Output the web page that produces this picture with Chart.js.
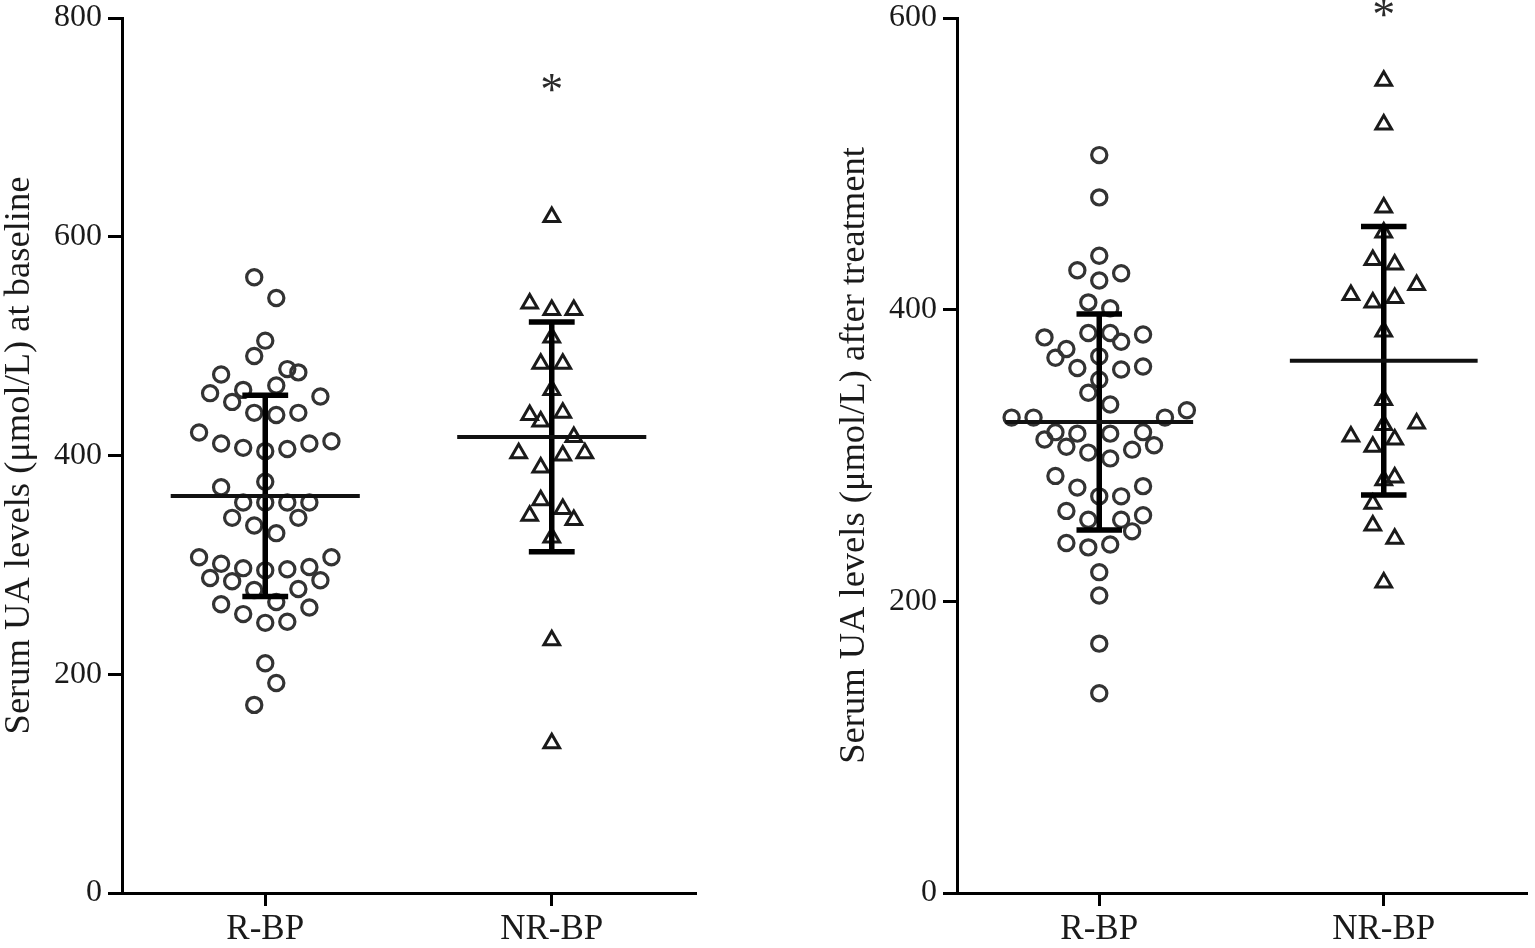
<!DOCTYPE html>
<html>
<head>
<meta charset="utf-8">
<title>Serum UA levels</title>
<script src="https://cdn.jsdelivr.net/npm/chart.js@4.4.1/dist/chart.umd.min.js"></script>
<style>
  html, body { margin: 0; padding: 0; background: #fff; }
  .panel { position: absolute; top: 0; height: 948px; }
  #left { left: 0; width: 707px; }
  #right { left: 835px; width: 703px; }
</style>
</head>
<body>
<div class="panel" id="left"><canvas id="baseline"></canvas></div>
<div class="panel" id="right"><canvas id="treated"></canvas></div>
<script>
const groups = ['R-BP', 'NR-BP'];

// serum UA (umol/L) at baseline
const baseRBP = [563, 544, 505, 491, 474, 479, 476, 464, 457, 460, 454, 449, 439, 437, 439,
  421, 411, 407, 404, 406, 411, 413, 376, 371, 357, 357, 357, 357, 343, 343, 336, 329,
  307, 301, 297, 295, 296, 298, 307, 288, 285, 286, 277, 278, 266, 264, 261, 255, 247,
  248, 210, 192, 172];
const baseRBPSlot = [-1, 1, 0, -1, -4, 2, 3, 1, -5, -2, 5, -3, -1, 1, 3,
  -6, -4, -2, 0, 2, 4, 6, 0, -4, -2, 0, 2, 4, -3, 3, -1, 1,
  -6, -4, -2, 0, 2, 4, 6, -5, -3, 5, -1, 3, 1, -4, 4, -2, 0,
  2, 0, 1, -1];
const baseNRBP = [618, 539, 533, 533, 508, 484, 484, 460, 437, 431, 439, 417, 402, 400,
  402, 389, 359, 345, 351, 341, 325, 231, 137];
const baseNRBPSlot = [0, -2, 0, 2, 0, -1, 1, 0, -2, -1, 1, 2, -3, 1,
  3, -1, -1, -2, 1, 2, 0, 0, 0];

// serum UA (umol/L) after treatment
const afterRBP = [506, 477, 437, 427, 425, 420, 405, 401, 384, 384, 378, 383, 381, 373,
  367, 360, 368, 359, 361, 352, 343, 335, 326, 326, 326, 331, 316, 315, 315, 316, 311,
  306, 302, 298, 304, 307, 286, 278, 272, 272, 279, 262, 256, 256, 259, 248, 240, 237,
  239, 220, 204, 171, 137];
const afterRBPSlot = [0, 0, 0, -2, 2, 0, -1, 1, -1, 1, 2, 4, -5, -3,
  -4, -2, 0, 2, 4, 0, -1, 1, -8, -6, 6, 8, -4, -2, 1, 4, -5,
  -3, -1, 1, 3, 5, -4, -2, 0, 2, 4, -3, -1, 2, 4, 3, -3, -1,
  1, 0, 0, 0, 0];
const afterNRBP = [557, 527, 470, 453, 434, 431, 410, 405, 408, 417, 385, 338, 321, 322,
  313, 306, 311, 285, 283, 267, 252, 243, 213];
const afterNRBPSlot = [0, 0, 0, 0, -1, 1, -3, -1, 1, 3, 0, 0, 0, 3,
  -3, -1, 1, 1, 0, -1, -1, 1, 0];

// mean and SD per group
const baseMean = [363, 417];
const baseSD = [92, 105];
const afterMean = [323, 365];
const afterSD = [74, 92];

const baseTicks = [0, 200, 400, 600, 800];
const afterTicks = [0, 200, 400, 600];

// where the significance '*' sits above NR-BP
const baseStar = 741;
const afterStar = 607;

const SLOT = 0.0385;      // horizontal step between swarm columns
const MEAN_HALF = 0.33;
const CAP_HALF = 0.08;
const serif = '"Liberation Serif", "DejaVu Serif", serif';

function swarm(values, slots, center) {
  return values.map((v, i) => ({ x: center + slots[i] * SLOT, y: v }));
}

function meanLines(means) {
  const pts = [];
  means.forEach((m, i) => {
    const c = i + 0.5;
    pts.push({ x: c - MEAN_HALF, y: m }, { x: c + MEAN_HALF, y: m }, { x: c, y: null });
  });
  return pts;
}

function sdBars(means, sds) {
  const pts = [];
  means.forEach((m, i) => {
    const c = i + 0.5, hi = m + sds[i], lo = m - sds[i];
    pts.push({ x: c - CAP_HALF, y: hi }, { x: c + CAP_HALF, y: hi }, { x: c, y: null });
    pts.push({ x: c, y: hi }, { x: c, y: lo }, { x: c, y: null });
    pts.push({ x: c - CAP_HALF, y: lo }, { x: c + CAP_HALF, y: lo }, { x: c, y: null });
  });
  return pts;
}

const starPlugin = {
  id: 'star',
  afterDatasetsDraw(chart, args, opts) {
    const { ctx, scales } = chart;
    ctx.save();
    ctx.font = '46px ' + serif;
    ctx.textAlign = 'center';
    ctx.textBaseline = 'alphabetic';
    ctx.fillStyle = '#2a2a2a';
    ctx.fillText('*', scales.x.getPixelForValue(1.5), scales.y.getPixelForValue(opts.value) + 22);
    ctx.restore();
  }
};

function makeChart(id, rbp, rbpSlot, nrbp, nrbpSlot, means, sds, ticks, title, star) {
  return new Chart(document.getElementById(id), {
    type: 'scatter',
    data: {
      datasets: [{
        label: 'mean',
        data: meanLines(means),
        showLine: true,
        spanGaps: false,
        borderColor: '#111',
        borderWidth: 4,
        pointRadius: 0,
        order: 0
      }, {
        label: 'sd',
        data: sdBars(means, sds),
        showLine: true,
        spanGaps: false,
        borderColor: '#000',
        borderWidth: 5.5,
        pointRadius: 0,
        order: 0
      }, {
        label: groups[0],
        data: swarm(rbp, rbpSlot, 0.5),
        pointStyle: 'circle',
        pointRadius: 7.6,
        pointBorderWidth: 3.2,
        pointBorderColor: '#333',
        pointBackgroundColor: 'transparent',
        order: 1
      }, {
        label: groups[1],
        data: swarm(nrbp, nrbpSlot, 1.5),
        pointStyle: 'triangle',
        pointRadius: 9,
        pointBorderWidth: 3,
        pointBorderColor: '#1a1a1a',
        pointBackgroundColor: 'transparent',
        order: 1
      }]
    },
    options: {
      responsive: true,
      maintainAspectRatio: false,
      animation: false,
      layout: { padding: { top: 18, right: 4, left: 0, bottom: 0 } },
      plugins: {
        legend: { display: false },
        tooltip: { enabled: false },
        star: { value: star }
      },
      scales: {
        x: {
          type: 'linear',
          min: 0,
          max: 2,
          afterBuildTicks: (scale) => { scale.ticks = [{ value: 0.5 }, { value: 1.5 }]; },
          afterFit: (scale) => { scale.height = 55; scale.paddingLeft = 0; scale.paddingRight = 0; },
          ticks: {
            callback: (v, i) => groups[i],
            color: '#1a1a1a',
            font: { family: serif, size: 35 },
            padding: 3,
            maxRotation: 0
          },
          grid: { drawOnChartArea: false, drawTicks: true, tickLength: 13, color: '#000', lineWidth: 3 },
          border: { display: true, color: '#000', width: 3 }
        },
        y: {
          min: 0,
          max: ticks[ticks.length - 1],
          afterBuildTicks: (scale) => { scale.ticks = ticks.map(v => ({ value: v })); },
          afterFit: (scale) => { scale.width = 122; scale.paddingTop = 0; scale.paddingBottom = 0; },
          ticks: {
            color: '#1a1a1a',
            font: { family: serif, size: 32 },
            padding: 6
          },
          title: {
            display: true,
            text: title,
            color: '#1a1a1a',
            font: { family: serif, size: 36.5, lineHeight: 1.0 },
            padding: 1
          },
          grid: { drawOnChartArea: false, drawTicks: true, tickLength: 14, color: '#000', lineWidth: 3 },
          border: { display: true, color: '#000', width: 3 }
        }
      }
    },
    plugins: [starPlugin]
  });
}

makeChart('baseline', baseRBP, baseRBPSlot, baseNRBP, baseNRBPSlot, baseMean, baseSD,
  baseTicks, 'Serum UA levels (\u03bcmol/L) at baseline', baseStar);
makeChart('treated', afterRBP, afterRBPSlot, afterNRBP, afterNRBPSlot, afterMean, afterSD,
  afterTicks, 'Serum UA levels (\u03bcmol/L) after treatment', afterStar);
</script>
</body>
</html>
